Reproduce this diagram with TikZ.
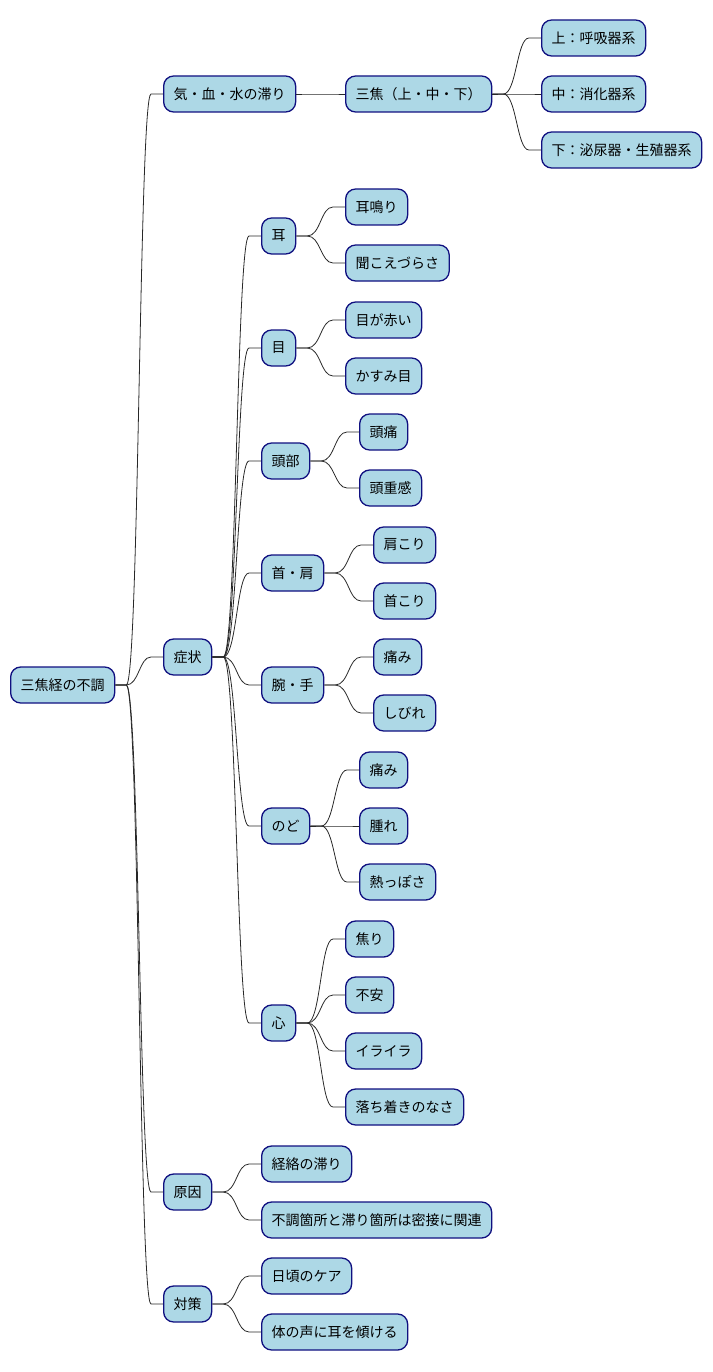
\documentclass[tikz,border=0pt]{standalone}
\usepackage{fontspec}
\usepackage{tikz}
\usetikzlibrary{calc}
\newfontfamily\jpfont{Noto Sans CJK JP}
\definecolor{topicblue}{RGB}{173,216,230}
\definecolor{topicline}{RGB}{16,16,128}
\definecolor{branchgray}{RGB}{40,40,40}

\begin{document}
\begin{tikzpicture}[x=1pt, y=-1pt,
topic/.style={draw=topicline, fill=topicblue, rounded corners=10pt, line width=1.3pt,
minimum height=36pt, inner xsep=10pt, inner ysep=0pt, anchor=west,
font=\fontsize{14}{16}\selectfont\jpfont},
branch/.style={draw=branchgray, line width=0.8pt,
to path={let \p1=(\tikztostart), \p2=(\tikztotarget) in
-- (\x1+11pt,\y1) .. controls ({(\x1+\x2)/2},\y1) and ({(\x1+\x2)/2},\y2) .. (\x2-12pt,\y2)
-- (\tikztotarget)}}
]
\useasboundingbox (0,0) rectangle (712,1372);

\node[topic] (root) at (10,685) {三焦経の不調};

\node[topic] (qi) at (163,94) {気・血・水の滞り};
\node[topic] (sanjiao) at (345,94) {三焦（上・中・下）};
\node[topic] (upper) at (541,38) {上：呼吸器系};
\node[topic] (middle) at (541,94) {中：消化器系};
\node[topic] (lower) at (541,150) {下：泌尿器・生殖器系};

\node[topic] (symptom) at (163,657) {症状};
\node[topic] (ear) at (261,236) {耳};
\node[topic] (ear1) at (345,207) {耳鳴り};
\node[topic] (ear2) at (345,263) {聞こえづらさ};
\node[topic] (eye) at (261,348) {目};
\node[topic] (eye1) at (345,320) {目が赤い};
\node[topic] (eye2) at (345,376) {かすみ目};
\node[topic] (head) at (261,461) {頭部};
\node[topic] (head1) at (359,432) {頭痛};
\node[topic] (head2) at (359,488) {頭重感};
\node[topic] (neck) at (261,573) {首・肩};
\node[topic] (neck1) at (373,545) {肩こり};
\node[topic] (neck2) at (373,601) {首こり};
\node[topic] (arm) at (261,685) {腕・手};
\node[topic] (arm1) at (373,657) {痛み};
\node[topic] (arm2) at (373,713) {しびれ};
\node[topic] (throat) at (261,826) {のど};
\node[topic] (throat1) at (359,770) {痛み};
\node[topic] (throat2) at (359,826) {腫れ};
\node[topic] (throat3) at (359,882) {熱っぽさ};
\node[topic] (heart) at (261,1023) {心};
\node[topic] (heart1) at (345,939) {焦り};
\node[topic] (heart2) at (345,995) {不安};
\node[topic] (heart3) at (345,1051) {イライラ};
\node[topic] (heart4) at (345,1107) {落ち着きのなさ};

\node[topic] (cause) at (163,1192) {原因};
\node[topic] (cause1) at (261,1164) {経絡の滞り};
\node[topic] (cause2) at (261,1220) {不調箇所と滞り箇所は密接に関連};

\node[topic] (care) at (163,1304) {対策};
\node[topic] (care1) at (261,1276) {日頃のケア};
\node[topic] (care2) at (261,1332) {体の声に耳を傾ける};

\draw[branch] (root.east) to (qi.west);
\draw[branch] (root.east) to (symptom.west);
\draw[branch] (root.east) to (cause.west);
\draw[branch] (root.east) to (care.west);

\draw[branch] (qi.east) to (sanjiao.west);
\draw[branch] (sanjiao.east) to (upper.west);
\draw[branch] (sanjiao.east) to (middle.west);
\draw[branch] (sanjiao.east) to (lower.west);

\draw[branch] (symptom.east) to (ear.west);
\draw[branch] (symptom.east) to (eye.west);
\draw[branch] (symptom.east) to (head.west);
\draw[branch] (symptom.east) to (neck.west);
\draw[branch] (symptom.east) to (arm.west);
\draw[branch] (symptom.east) to (throat.west);
\draw[branch] (symptom.east) to (heart.west);

\draw[branch] (ear.east) to (ear1.west);
\draw[branch] (ear.east) to (ear2.west);
\draw[branch] (eye.east) to (eye1.west);
\draw[branch] (eye.east) to (eye2.west);
\draw[branch] (head.east) to (head1.west);
\draw[branch] (head.east) to (head2.west);
\draw[branch] (neck.east) to (neck1.west);
\draw[branch] (neck.east) to (neck2.west);
\draw[branch] (arm.east) to (arm1.west);
\draw[branch] (arm.east) to (arm2.west);
\draw[branch] (throat.east) to (throat1.west);
\draw[branch] (throat.east) to (throat2.west);
\draw[branch] (throat.east) to (throat3.west);
\draw[branch] (heart.east) to (heart1.west);
\draw[branch] (heart.east) to (heart2.west);
\draw[branch] (heart.east) to (heart3.west);
\draw[branch] (heart.east) to (heart4.west);

\draw[branch] (cause.east) to (cause1.west);
\draw[branch] (cause.east) to (cause2.west);
\draw[branch] (care.east) to (care1.west);
\draw[branch] (care.east) to (care2.west);

\end{tikzpicture}
\end{document}
